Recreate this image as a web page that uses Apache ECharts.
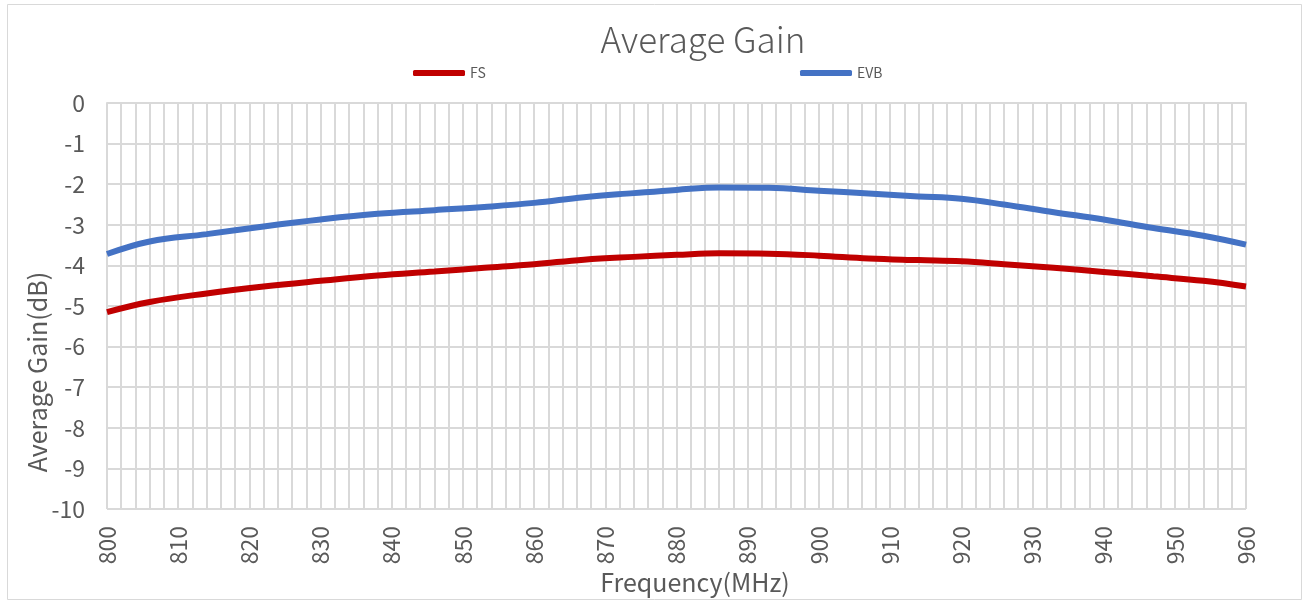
<!DOCTYPE html>
<html>
<head>
<meta charset="utf-8">
<script src="https://cdn.jsdelivr.net/npm/echarts@6/dist/echarts.min.js"></script>
<style>
html,body{margin:0;padding:0;background:#fff;}
#chart{width:1309px;height:603px;}
</style>
</head>
<body>
<div id="chart"></div>
<script>
const frequencies = [800, 806, 814, 822, 830, 838, 846, 853, 860, 867, 874, 880, 886, 893, 900, 907, 914, 920, 926, 933, 940, 947, 954, 960];
const fsGain = [-5.15, -4.90, -4.69, -4.52, -4.38, -4.25, -4.15, -4.06, -3.97, -3.86, -3.79, -3.74, -3.70, -3.71, -3.76, -3.83, -3.87, -3.90, -3.97, -4.06, -4.16, -4.27, -4.38, -4.52];
const evbGain = [-3.72, -3.41, -3.23, -3.04, -2.87, -2.73, -2.64, -2.56, -2.46, -2.32, -2.22, -2.14, -2.08, -2.09, -2.16, -2.23, -2.30, -2.36, -2.50, -2.69, -2.87, -3.08, -3.27, -3.49];
const seriesNames = ['FS', 'EVB'];

const FONT = '"Noto Sans CJK SC", "Noto Sans", sans-serif';
const TXT = '#595959';
const GRID = '#D9D9D9';

const chart = echarts.init(document.getElementById('chart'), null, {renderer: 'canvas'});
const pair = (ys) => frequencies.map((f, i) => [f, ys[i]]);

chart.setOption({
  backgroundColor: '#fff',
  animation: false,
  title: {
    text: 'Average Gain',
    left: 703,
    textAlign: 'center',
    top: 22,
    padding: 0,
    textStyle: {fontFamily: FONT, fontSize: 35, fontWeight: 300, color: TXT}
  },
  legend: [
    {
      data: [seriesNames[0]], left: 413, top: 66, padding: 0, icon: 'roundRect',
      itemWidth: 52, itemHeight: 6, itemGap: 8,
      textStyle: {fontFamily: FONT, fontSize: 14, color: TXT}
    },
    {
      data: [seriesNames[1]], left: 800, top: 66, padding: 0, icon: 'roundRect',
      itemWidth: 52, itemHeight: 6, itemGap: 8,
      textStyle: {fontFamily: FONT, fontSize: 14, color: TXT}
    }
  ],
  grid: {left: 107, right: 63, top: 103, bottom: 94, containLabel: false},
  xAxis: {
    type: 'value', min: 800, max: 960, interval: 10,
    axisLine: {show: true, lineStyle: {color: GRID, width: 2}},
    axisTick: {show: false},
    minorTick: {show: false, splitNumber: 5},
    splitLine: {show: true, lineStyle: {color: GRID, width: 2}},
    minorSplitLine: {show: true, lineStyle: {color: GRID, width: 2}},
    axisLabel: {rotate: 90, margin: 17, fontFamily: FONT, fontSize: 23, color: TXT}
  },
  yAxis: {
    type: 'value', min: -10, max: 0, interval: 1,
    axisLine: {show: false},
    axisTick: {show: false},
    splitLine: {show: true, lineStyle: {color: GRID, width: 2}},
    axisLabel: {margin: 22, fontFamily: FONT, fontSize: 23, color: TXT}
  },
  graphic: [
    {type: 'rect', shape: {x: 7.5, y: 4.5, width: 1294, height: 595}, style: {fill: 'none', stroke: GRID, lineWidth: 1}, silent: true, z: -10},
    {type: 'text', x: 695, y: 582, style: {text: 'Frequency(MHz)', fontFamily: FONT, fontSize: 25, fill: TXT, align: 'center', verticalAlign: 'middle'}},
    {type: 'text', x: 37, y: 372, rotation: Math.PI / 2, style: {text: 'Average Gain(dB)', fontFamily: FONT, fontSize: 25, fill: TXT, align: 'center', verticalAlign: 'middle'}}
  ],
  series: [
    {name: seriesNames[0], type: 'line', data: pair(fsGain), smooth: 0.4, symbol: 'none', lineStyle: {color: '#C00000', width: 6}, itemStyle: {color: '#C00000'}},
    {name: seriesNames[1], type: 'line', data: pair(evbGain), smooth: 0.4, symbol: 'none', lineStyle: {color: '#4472C4', width: 6}, itemStyle: {color: '#4472C4'}}
  ]
});
</script>
</body>
</html>
